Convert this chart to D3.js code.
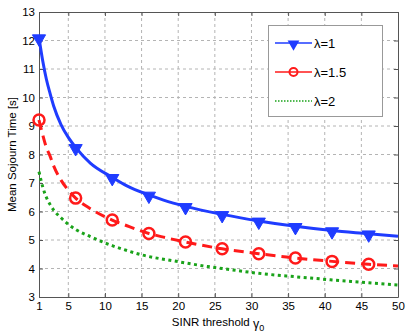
<!DOCTYPE html>
<html><head><meta charset="utf-8">
<script src="https://cdn.jsdelivr.net/npm/d3@7"></script>
<style>body{margin:0;background:#fff}svg{display:block}text{font-family:"Liberation Sans",Arial,sans-serif}</style>
</head><body><svg id="c" width="408" height="336"></svg>
<script>
const xTicks = [1,5,10,15,20,25,30,35,40,45,50];
const yTicks = [3,4,5,6,7,8,9,10,11,12,13];
const x1 = [1,1.5,2,2.5,3,4,5,6,8,11,13,16,18,21,26,31,36,41,46,50];
const lam1 = [12.1,11.3,10.65,10.15,9.7,9.05,8.6,8.25,7.7,7.2,6.9,6.58,6.4,6.18,5.9,5.67,5.48,5.33,5.22,5.13];
const lam15 = [9.21,8.7,8.25,7.95,7.6,7.1,6.75,6.47,6.1,5.7,5.5,5.23,5.1,4.93,4.69,4.52,4.37,4.25,4.15,4.09];
const x2 = [1,1.5,2,2.5,3,4,5,6,8,11,13,15,20,24,26,31,36,41,46,50];
const lam2 = [7.4,6.87,6.5,6.25,6.05,5.78,5.55,5.37,5.12,4.8,4.63,4.48,4.24,4.07,4.0,3.83,3.71,3.6,3.5,3.42];
const markerX = [1,6,11,16,21,26,31,36,41,46];
const labels = ["λ=1","λ=1.5","λ=2"];

const svg = d3.select("#c");
const L=39,R=398,T=12,B=297;
const x = d3.scaleLinear().domain([1,50]).range([L,R]);
const y = d3.scaleLinear().domain([3,13]).range([B,T]);
const g = svg.append("g");

// grid
g.selectAll(".gx").data(xTicks.slice(1,-1)).enter().append("line")
 .attr("x1",d=>x(d)).attr("x2",d=>x(d)).attr("y1",T).attr("y2",B)
 .attr("stroke","#b4b4b4").attr("stroke-width",1).attr("stroke-dasharray","3,3");
g.selectAll(".gy").data(yTicks.slice(1,-1)).enter().append("line")
 .attr("y1",d=>y(d)).attr("y2",d=>y(d)).attr("x1",L).attr("x2",R)
 .attr("stroke","#b4b4b4").attr("stroke-width",1).attr("stroke-dasharray","3,3");

// axes
const ax = d3.axisBottom(x).tickValues(xTicks).tickSizeInner(-4).tickSizeOuter(0).tickPadding(5);
const ay = d3.axisLeft(y).tickValues(yTicks).tickSizeInner(-4).tickSizeOuter(0).tickPadding(4);
const gx = svg.append("g").attr("transform",`translate(0,${B})`).call(ax);
const gy = svg.append("g").attr("transform",`translate(${L},0)`).call(ay);
const gx2 = svg.append("g").attr("transform",`translate(0,${T})`).call(d3.axisTop(x).tickValues(xTicks).tickSizeInner(-4).tickSizeOuter(0).tickFormat(""));
const gy2 = svg.append("g").attr("transform",`translate(${R},0)`).call(d3.axisRight(y).tickValues(yTicks).tickSizeInner(-4).tickSizeOuter(0).tickFormat(""));
[gx,gy,gx2,gy2].forEach(a=>{a.select(".domain").attr("stroke","#555");a.selectAll(".tick line").attr("stroke","#555");
 a.selectAll("text").attr("font-size",11.5).attr("fill","#000").style("font-family","Liberation Sans, Arial, sans-serif");});

// lines
const line = (xs)=>d3.line().x((d,i)=>x(xs[i])).y(d=>y(d)).curve(d3.curveMonotoneX);
const plot = svg.append("g");
plot.append("path").attr("d",line(x1)(lam1)).attr("fill","none").attr("stroke","#1f3cff").attr("stroke-width",3);
plot.append("path").attr("d",line(x1)(lam15)).attr("fill","none").attr("stroke","#ff1a1a").attr("stroke-width",3).attr("stroke-dasharray","10,6");
plot.append("path").attr("d",line(x2)(lam2)).attr("fill","none").attr("stroke","#1aa31a").attr("stroke-width",3).attr("stroke-dasharray","3,3.5");

const interp = (xs,ys,v)=>{const i=xs.indexOf(v);return ys[i];};
const tri = d3.symbol().type(d3.symbolTriangle).size(75);
plot.selectAll(".m1").data(markerX).enter().append("path")
 .attr("d",tri).attr("transform",d=>`translate(${x(d)},${y(interp(x1,lam1,d))+1}) rotate(180)`)
 .attr("fill","#1f3cff").attr("stroke","#1f3cff");
plot.selectAll(".m2").data(markerX).enter().append("circle")
 .attr("cx",d=>x(d)).attr("cy",d=>y(interp(x1,lam15,d))).attr("r",5.5)
 .attr("fill","none").attr("stroke","#ff1a1a").attr("stroke-width",2.5);

// legend
const lg = svg.append("g");
lg.append("rect").attr("x",268.5).attr("y",25.5).attr("width",114).attr("height",91).attr("fill","#fff").attr("stroke","#999");
const ly=[43,72,101];
const cols=["#1f3cff","#ff1a1a","#1aa31a"];
ly.forEach((yy,i)=>{
 const ln = lg.append("line").attr("x1",275).attr("x2",312).attr("y1",yy).attr("y2",yy).attr("stroke",cols[i]).attr("stroke-width",1.5);
 if(i==2) ln.attr("stroke-dasharray","1.5,1.5");
 lg.append("text").attr("x",314).attr("y",yy+5).attr("font-size",13).text(labels[i]);
});
lg.append("path").attr("d",d3.symbol().type(d3.symbolTriangle).size(60)).attr("transform",`translate(293.5,${ly[0]+1}) rotate(180)`).attr("fill","#1f3cff");
lg.append("circle").attr("cx",293.5).attr("cy",ly[1]).attr("r",4).attr("fill","none").attr("stroke","#ff1a1a").attr("stroke-width",2);

// labels
svg.append("text").attr("transform",`translate(16,${(T+B)/2}) rotate(-90)`).attr("text-anchor","middle").attr("font-size",11.5).text("Mean Sojourn Time [s]");
const xl = svg.append("text").attr("x",218).attr("y",326).attr("text-anchor","middle").attr("font-size",11.5);
xl.append("tspan").text("SINR threshold ");
xl.append("tspan").text("γ").attr("font-size",12.5).attr("dy",2);
xl.append("tspan").text("0").attr("font-size",9).attr("dy",3);
</script></body></html>
